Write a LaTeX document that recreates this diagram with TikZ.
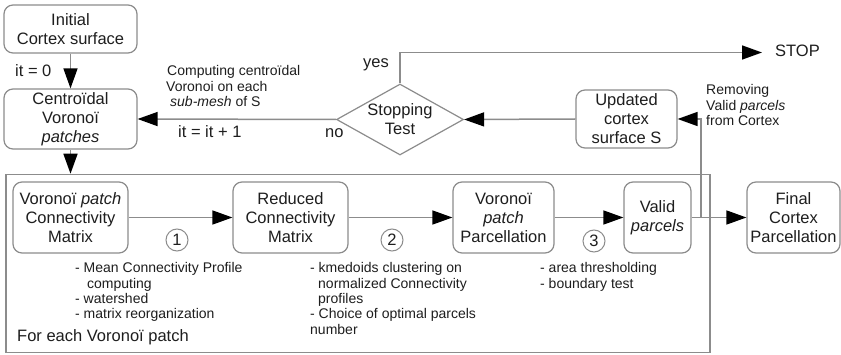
\documentclass[tikz,border=0pt]{standalone}
\usepackage{fontspec}
\setmainfont{Liberation Sans}
\usetikzlibrary{arrows.meta,shapes.geometric}
\definecolor{lgray}{RGB}{140,140,140}
\definecolor{txt}{RGB}{30,30,30}
\newcommand\bigtxt{\fontsize{16.5}{19}\selectfont}
\newcommand\smalltxt{\fontsize{14}{15.5}\selectfont}
\tikzset{
  box/.style={draw=lgray, line width=1.2pt, rounded corners=9pt, fill=white, align=center, font=\bigtxt, text=txt, inner sep=0pt},
  arr/.style={draw=lgray, line width=1.5pt, -{Triangle[length=20pt,width=14pt,color=black]}},
  conn/.style={draw=lgray, line width=1.5pt},
  smalltext/.style={font=\smalltxt, text=txt, inner sep=0pt, anchor=base west},
  bigtext/.style={font=\bigtxt, text=txt, inner sep=0pt, anchor=base west},
  num/.style={circle, draw=lgray, line width=1pt, minimum size=22pt, inner sep=0pt, font=\bigtxt, text=txt},
}
\begin{document}
\begin{tikzpicture}[x=1pt,y=-1pt]
\useasboundingbox (0,0) rectangle (841,355);
\fill[white] (0,0) rectangle (841,355);

% outer frame
\node[draw=lgray, line width=1.5pt, minimum width=704pt, minimum height=178pt, inner sep=0pt] (outer) at (358,263.5) {};

% top row
\node[box, minimum width=133pt, minimum height=48pt] (init) at (70.5,29) {Initial\\Cortex surface};
\node[box, minimum width=133pt, minimum height=60pt] (cent) at (70.5,119) {Centroïdal\\Voronoï\\\textit{patches}};
\node[diamond, draw=lgray, line width=1.2pt, fill=white, minimum width=127pt, minimum height=71pt, inner sep=0pt] (test) at (400,119.5) {};
\node[font=\bigtxt, text=txt, align=center, inner sep=0pt] (testtxt) at (400,119.5) {Stopping\\Test};
\node[box, minimum width=101pt, minimum height=58pt] (upd) at (626.5,119) {Updated\\cortex\\surface S};
\node[bigtext] (stop) at (775,56.7) {STOP};
\coordinate (stoptip) at (762,52.5);

% bottom row
\node[box, minimum width=115pt, minimum height=71pt] (b1) at (70.5,217.5) {Voronoï \textit{patch}\\Connectivity\\Matrix};
\node[box, minimum width=115pt, minimum height=71pt] (b2) at (290.5,217.5) {Reduced\\Connectivity\\Matrix};
\node[box, minimum width=101pt, minimum height=71pt] (b3) at (503.5,217.5) {Voronoï\\\textit{patch}\\Parcellation};
\node[box, minimum width=67pt, minimum height=71pt] (b4) at (657.5,217.5) {Valid\\\textit{parcels}};
\node[box, minimum width=93pt, minimum height=71pt] (fin) at (793.5,217.5) {Final\\Cortex\\Parcellation};
\coordinate (jn) at (701,217.5);

% connectors
\draw[arr] (init.south) -- (cent.north);
\draw[arr] (cent.south) -- (cent.south |- outer.north);
\draw[arr] (test.west) -- (cent.east);
\draw[arr] (upd.west) -- (test.east);
\draw[arr] (test.north) |- (stoptip);
\draw[arr] (b1.east) -- (b2.west);
\draw[arr] (b2.east) -- (b3.west);
\draw[arr] (b3.east) -- (b4.west);
\draw[arr] (b4.east) -- (fin.west);
\draw[arr] (jn) |- (upd.east);

% numbers
\node[num] (c1) at (177,240) {1};
\node[num] (c2) at (392,240) {2};
\node[num] (c3) at (594,241) {3};

% labels
\node[bigtext] (it0) at (15,77) {it = 0};
\node[bigtext] (itp) at (178,138) {it = it + 1};
\node[bigtext] (no) at (325,138) {no};
\node[bigtext] (yes) at (363,68) {yes};
\node[smalltext] (cp1) at (167,76) {Computing centroïdal};
\node[smalltext] (cp2) at (166,92) {Voronoi on each};
\node[smalltext] (cp3) at (170,107) {\textit{sub-mesh} of S};
\node[smalltext] (rm1) at (706,95) {Removing};
\node[smalltext] (rm2) at (706,111) {Valid \textit{parcels}};
\node[smalltext] (rm3) at (706,126) {from Cortex};

% lists
\node[smalltext] (la1) at (75,273) {- Mean Connectivity Profile};
\node[smalltext] (la2) at (87,288.5) {computing};
\node[smalltext] (la3) at (75,304) {- watershed};
\node[smalltext] (la4) at (75,319) {- matrix reorganization};
\node[bigtext] (each) at (17,342) {For each Voronoï patch};
\node[smalltext] (lb1) at (310,273) {- kmedoids clustering on};
\node[smalltext] (lb2) at (318,288.5) {normalized Connectivity};
\node[smalltext] (lb3) at (318,304) {profiles};
\node[smalltext] (lb4) at (310,319) {- Choice of optimal parcels};
\node[smalltext] (lb5) at (310,334.5) {number};
\node[smalltext] (lc1) at (540,273) {- area thresholding};
\node[smalltext] (lc2) at (540,288.5) {- boundary test};
\end{tikzpicture}
\end{document}
